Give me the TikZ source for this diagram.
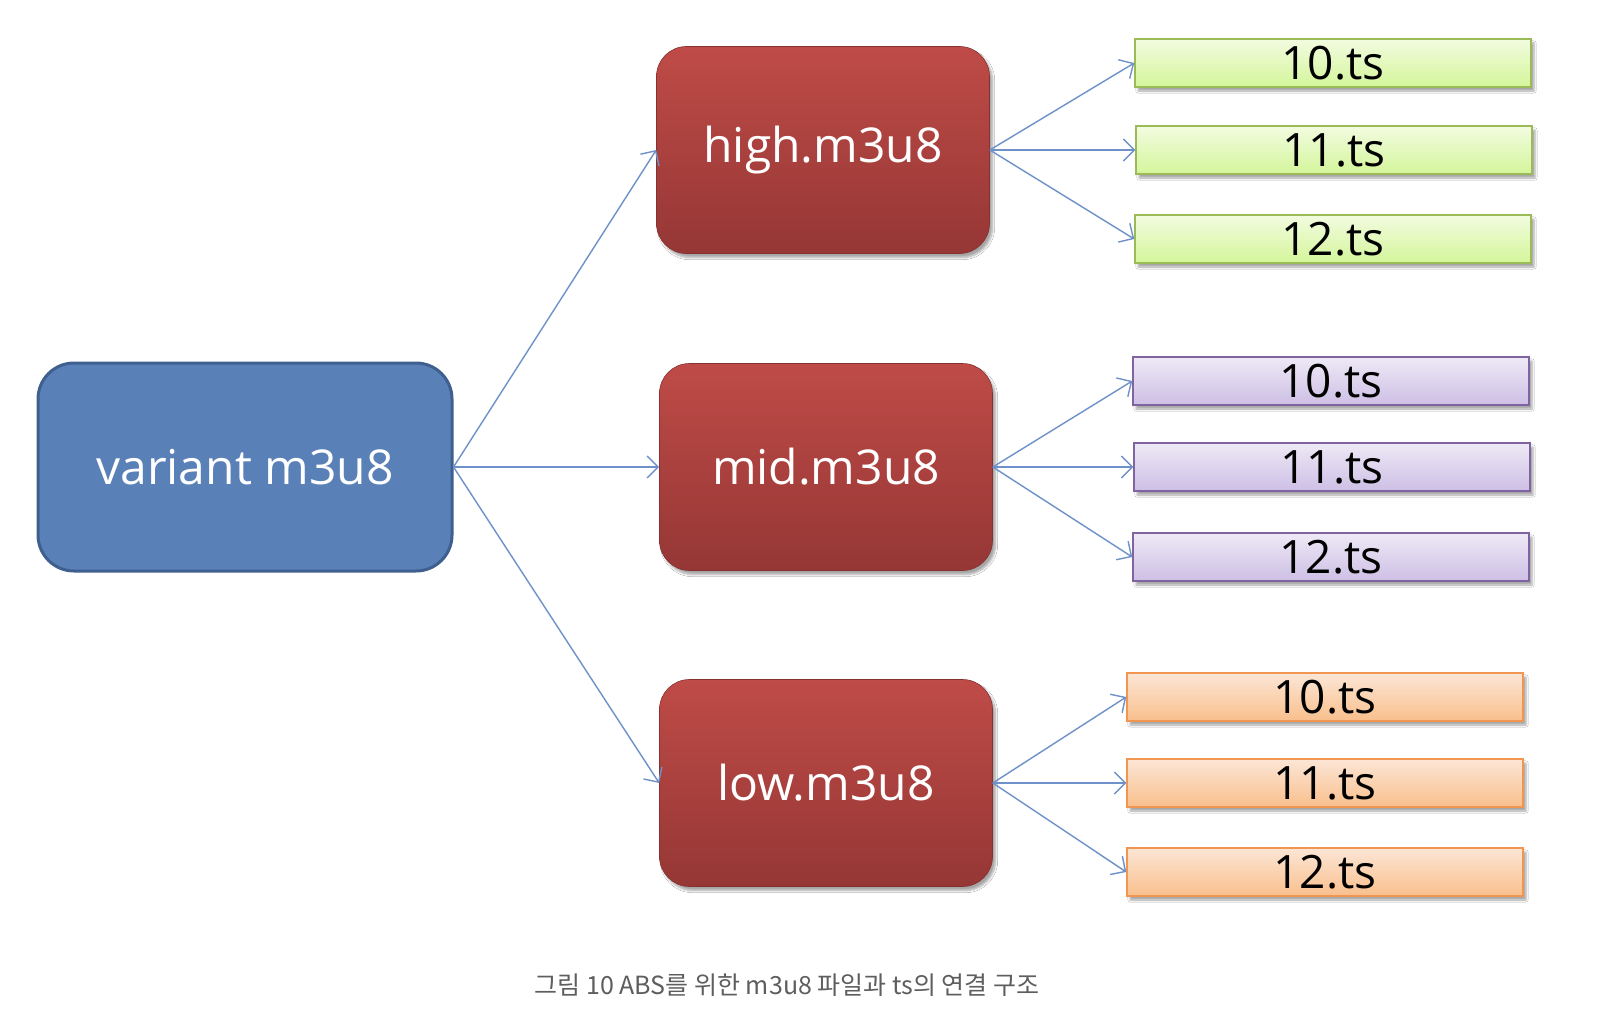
\documentclass[tikz,border=0pt]{standalone}
\usepackage{fontspec}
\setmainfont{Open Sans}
\newfontfamily\krfont{Noto Sans CJK KR}
\usetikzlibrary{arrows.meta,shadows.blur}
\definecolor{varfill}{HTML}{5A80B8}
\definecolor{vardraw}{HTML}{3F5F8E}
\definecolor{redtop}{HTML}{BF4B47}
\definecolor{redbot}{HTML}{953735}
\definecolor{grtop}{HTML}{F2FCE0}
\definecolor{grbot}{HTML}{D4F59A}
\definecolor{grdraw}{HTML}{9BBB59}
\definecolor{putop}{HTML}{EEE9F6}
\definecolor{pubot}{HTML}{CDBFE5}
\definecolor{pudraw}{HTML}{8064A2}
\definecolor{ortop}{HTML}{FCE6D6}
\definecolor{orbot}{HTML}{F9BF8C}
\definecolor{ordraw}{HTML}{F09650}
\definecolor{arrowc}{HTML}{6E91CA}
\definecolor{capc}{HTML}{5E5E5E}
\tikzset{
  varbox/.style={draw=vardraw, line width=3pt, fill=varfill, rounded corners=36pt,
    minimum width=414pt, minimum height=208pt, inner sep=0pt, text=white,
    font=\fontsize{48}{56}\selectfont},
  playbox/.style={rounded corners=30pt, top color=redtop, bottom color=redbot,
    draw=redbot!90!black, line width=0.6pt,
    minimum width=333pt, minimum height=207pt, inner sep=0pt, text=white,
    font=\fontsize{48}{56}\selectfont,
    blur shadow={shadow xshift=3pt, shadow yshift=-4pt, shadow blur steps=6, shadow opacity=35}},
  tsbox/.style={minimum width=396pt, minimum height=48pt, inner sep=0pt, line width=1.5pt,
    text=black, font=\fontsize{46}{50}\selectfont,
    blur shadow={shadow xshift=3pt, shadow yshift=-4pt, shadow blur steps=4, shadow opacity=35}},
  grbox/.style={tsbox, draw=grdraw, top color=grtop, bottom color=grbot},
  pubox/.style={tsbox, draw=pudraw, top color=putop, bottom color=pubot},
  orbox/.style={tsbox, draw=ordraw, top color=ortop, bottom color=orbot},
  link/.style={draw=arrowc, line width=1.4pt, -{Straight Barb[length=11pt,width=22pt,line width=1.4pt]}}
}
\begin{document}
\begin{tikzpicture}[x=1pt,y=-1pt]
\useasboundingbox (0,0) rectangle (1598,1030);
\fill[white] (0,0) rectangle (1598,1030);

\node[varbox] (var) at (245,467) {variant m3u8};
\node[playbox] (high) at (823,150) {high.m3u8};
\node[playbox] (mid) at (826,467) {mid.m3u8};
\node[playbox] (low) at (826,783) {low.m3u8};

\node[grbox] (h10) at (1333,63) {10.ts};
\node[grbox] (h11) at (1334,150) {11.ts};
\node[grbox] (h12) at (1333,239) {12.ts};

\node[pubox] (m10) at (1331,381) {10.ts};
\node[pubox] (m11) at (1332,467) {11.ts};
\node[pubox] (m12) at (1331,557) {12.ts};

\node[orbox] (l10) at (1325,697) {10.ts};
\node[orbox] (l11) at (1325,783) {11.ts};
\node[orbox] (l12) at (1325,872) {12.ts};

\draw[link] (var.east) -- (high.west);
\draw[link] (var.east) -- (mid.west);
\draw[link] (var.east) -- (low.west);

\draw[link] (high.east) -- (h10.west);
\draw[link] (high.east) -- (h11.west);
\draw[link] (high.east) -- (h12.west);
\draw[link] (mid.east) -- (m10.west);
\draw[link] (mid.east) -- (m11.west);
\draw[link] (mid.east) -- (m12.west);
\draw[link] (low.east) -- (l10.west);
\draw[link] (low.east) -- (l11.west);
\draw[link] (low.east) -- (l12.west);

\node[text=capc, font=\krfont\fontsize{25}{29}\selectfont, inner sep=0pt] (cap) at (787,985)
  {그림 10 ABS를 위한 m3u8 파일과 ts의 연결 구조};
\end{tikzpicture}
\end{document}
